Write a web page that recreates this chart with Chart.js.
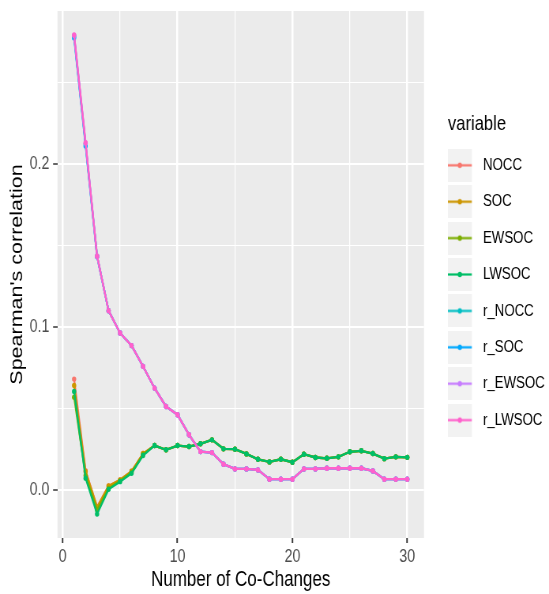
<!DOCTYPE html>
<html><head><meta charset="utf-8">
<script src="https://cdn.jsdelivr.net/npm/chart.js@4.4.1/dist/chart.umd.min.js"></script>
<style>html,body{margin:0;padding:0;background:#fff;overflow:hidden}</style>
</head><body>
<canvas id="c" width="695" height="594" style="width:549px;height:594px;display:block"></canvas>
<script>
const coChanges = [1,2,3,4,5,6,7,8,9,10,11,12,13,14,15,16,17,18,19,20,21,22,23,24,25,26,27,28,29,30];
const NOCC   = [0.0681,0.0120,-0.0100,0.0027,0.0064,0.0117,0.0225,0.0274,0.0248,0.0274,0.0268,0.0285,0.0309,0.0254,0.0252,0.0223,0.0190,0.0174,0.0190,0.0172,0.0221,0.0201,0.0196,0.0205,0.0236,0.0242,0.0225,0.0194,0.0205,0.0202];
const SOC    = [0.0642,0.0115,-0.0104,0.0027,0.0064,0.0117,0.0225,0.0274,0.0248,0.0274,0.0268,0.0285,0.0309,0.0254,0.0252,0.0223,0.0190,0.0174,0.0190,0.0172,0.0221,0.0201,0.0196,0.0205,0.0236,0.0242,0.0225,0.0194,0.0205,0.0202];
const EWSOC  = [0.0570,0.0090,-0.0120,0.0012,0.0058,0.0110,0.0220,0.0274,0.0248,0.0274,0.0268,0.0285,0.0309,0.0254,0.0252,0.0223,0.0190,0.0174,0.0190,0.0172,0.0221,0.0201,0.0196,0.0205,0.0236,0.0242,0.0225,0.0194,0.0205,0.0202];
const LWSOC  = [0.0605,0.0074,-0.0145,0.0006,0.0053,0.0104,0.0213,0.0274,0.0248,0.0274,0.0268,0.0285,0.0309,0.0254,0.0252,0.0223,0.0190,0.0174,0.0190,0.0172,0.0221,0.0201,0.0196,0.0205,0.0236,0.0242,0.0225,0.0194,0.0205,0.0202];
const r_NOCC = [0.2780,0.2120,0.1434,0.1100,0.0963,0.0886,0.0759,0.0626,0.0513,0.0463,0.0340,0.0237,0.0231,0.0160,0.0131,0.0131,0.0125,0.0068,0.0068,0.0068,0.0131,0.0131,0.0135,0.0135,0.0135,0.0135,0.0119,0.0068,0.0068,0.0068];
const r_SOC  = [0.2769,0.2109,0.1430,0.1100,0.0963,0.0886,0.0759,0.0626,0.0513,0.0463,0.0340,0.0237,0.0231,0.0160,0.0131,0.0131,0.0125,0.0068,0.0068,0.0068,0.0131,0.0131,0.0135,0.0135,0.0135,0.0135,0.0119,0.0068,0.0068,0.0068];
const r_EWSOC= [0.2785,0.2125,0.1434,0.1100,0.0963,0.0886,0.0759,0.0626,0.0513,0.0463,0.0340,0.0237,0.0231,0.0160,0.0131,0.0131,0.0125,0.0068,0.0068,0.0068,0.0131,0.0131,0.0135,0.0135,0.0135,0.0135,0.0119,0.0068,0.0068,0.0068];
const r_LWSOC= [0.2788,0.2129,0.1434,0.1100,0.0963,0.0886,0.0759,0.0626,0.0513,0.0463,0.0340,0.0237,0.0231,0.0160,0.0131,0.0131,0.0125,0.0068,0.0068,0.0068,0.0131,0.0131,0.0135,0.0135,0.0135,0.0135,0.0119,0.0068,0.0068,0.0068];
const seriesNames  = ['NOCC','SOC','EWSOC','LWSOC','r_NOCC','r_SOC','r_EWSOC','r_LWSOC'];
const seriesValues = [NOCC,SOC,EWSOC,LWSOC,r_NOCC,r_SOC,r_EWSOC,r_LWSOC];
const seriesColors = ['#F8766D','#CD9600','#7CAE00','#00BE67','#00BFC4','#00A9FF','#C77CFF','#FF61CC'];
const xTickValues = [0,5,10,15,20,25,30];
const xTickLabels = ['0','','10','','20','','30'];
const yTickValues = [0,0.05,0.1,0.15,0.2,0.25];
const yTickLabels = ['0.0','','0.1','','0.2',''];

const FONT = "'Liberation Sans', Arial, Helvetica, sans-serif";

function keyImage(color){
  const c = document.createElement('canvas');
  c.width = 56; c.height = 33;
  const g = c.getContext('2d');
  g.fillStyle = '#F2F2F2'; g.fillRect(0,0,30.4,33);
  g.strokeStyle = color; g.lineWidth = 2.2;
  g.beginPath(); g.moveTo(0,16.5); g.lineTo(30.4,16.5); g.stroke();
  g.fillStyle = color; g.beginPath(); g.arc(15.2,16.5,2.7,0,Math.PI*2); g.fill();
  return c;
}
const keyImages = seriesColors.map(keyImage);

const panelBg = {
  id:'panelBg',
  beforeDraw(chart){
    const {ctx, chartArea:a} = chart;
    ctx.save(); ctx.fillStyle = '#EBEBEB';
    ctx.fillRect(a.left, a.top, a.right-a.left, a.bottom-a.top);
    ctx.restore();
  }
};
const legendGap = {
  id:'legendGap',
  afterLayout(chart){
    const L = chart.legend; if (!L) return;
    const dx = chart.chartArea.right + 30.4 - L.left;
    L.left += dx; L.right = chart.width;
  }
};

const datasets = seriesNames.map((n,i)=>({
  label:n,
  data: coChanges.map((x,j)=>({x:x, y:seriesValues[i][j]})),
  borderColor: seriesColors[i],
  backgroundColor: seriesColors[i],
  borderWidth: 2.3,
  pointRadius: 2.7,
  pointBorderWidth: 0,
  pointHoverRadius: 2.7,
  showLine: true,
  tension: 0,
  order: seriesNames.length - i
}));

const isMajorX = v => { const k = xTickValues.indexOf(v); return k >= 0 && xTickLabels[k] !== ''; };
const idxY = v => yTickValues.findIndex(t => Math.abs(t - v) < 1e-9);
const isMajorY = v => { const k = idxY(v); return k >= 0 && yTickLabels[k] !== ''; };

new Chart(document.getElementById('c'), {
  type: 'scatter',
  data: { datasets },
  plugins: [panelBg, legendGap],
  options: {
    responsive: false,
    animation: false,
    devicePixelRatio: 1,
    layout: { padding: { top: 11, left: 6, right: 58.3, bottom: 0 } },
    plugins: {
      tooltip: { enabled: false },
      legend: {
        position: 'right',
        align: 'start',
        maxWidth: 100,
        title: {
          display: true, text: 'variable', color: '#000000', position: 'start',
          font: { family: FONT, size: 21, lineHeight: 1.0 },
          padding: { top: 102.5, bottom: 2.8, left: 0, right: 0 }
        },
        labels: {
          usePointStyle: true,
          pointStyleWidth: 16.3,
          padding: 19.6,
          color: '#000000',
          font: { family: FONT, size: 16.8 },
          sort: (a,b) => a.datasetIndex - b.datasetIndex,
          generateLabels: (chart) => seriesNames.map((n,i)=>({
            text: n, datasetIndex: i, pointStyle: keyImages[i],
            fillStyle: seriesColors[i], strokeStyle: 'rgba(0,0,0,0)', lineWidth: 0,
            hidden: false, fontColor: '#000000'
          }))
        }
      }
    },
    scales: {
      x: {
        type: 'linear', min: -0.45, max: 31.45,
        afterBuildTicks: s => { s.ticks = xTickValues.map(v => ({value: v})); },
        afterFit: s => { s.paddingLeft = 0; s.paddingRight = 0; },
        ticks: {
          callback: (v) => { const k = xTickValues.indexOf(v); return k >= 0 ? xTickLabels[k] : ''; },
          color: '#4D4D4D', font: { family: FONT, size: 18 }, padding: 3.7, maxRotation: 0, autoSkip: false
        },
        grid: {
          color: '#FFFFFF',
          lineWidth: c => (c.tick && isMajorX(c.tick.value)) ? 2.5 : 1.25,
          tickColor: c => (c.tick && isMajorX(c.tick.value)) ? '#333333' : 'rgba(0,0,0,0)',
          tickLength: 5, tickWidth: 1.9, drawTicks: true
        },
        border: { display: false },
        title: { display: true, text: 'Number of Co-Changes', color: '#000000',
          font: { family: FONT, size: 21.5 }, padding: { top: -4.8, bottom: 1 } }
      },
      y: {
        type: 'linear', min: -0.0292, max: 0.2935,
        afterBuildTicks: s => { s.ticks = yTickValues.map(v => ({value: v})); },
        afterFit: s => { s.paddingTop = 0; s.paddingBottom = 0; },
        ticks: {
          callback: (v) => { const k = idxY(v); return k >= 0 ? yTickLabels[k] : ''; },
          color: '#4D4D4D', font: { family: FONT, size: 18 }, padding: 4.7
        },
        grid: {
          color: '#FFFFFF',
          lineWidth: c => (c.tick && isMajorY(c.tick.value)) ? 2 : 1,
          tickColor: c => (c.tick && isMajorY(c.tick.value)) ? '#333333' : 'rgba(0,0,0,0)',
          tickLength: 5.5, tickWidth: 1.5, drawTicks: true
        },
        border: { display: false },
        title: { display: true, text: "Spearman's correlation", color: '#000000',
          font: { family: FONT, size: 21.5 }, padding: { top: 3, bottom: -2 } }
      }
    }
  }
});
</script>
</body></html>
